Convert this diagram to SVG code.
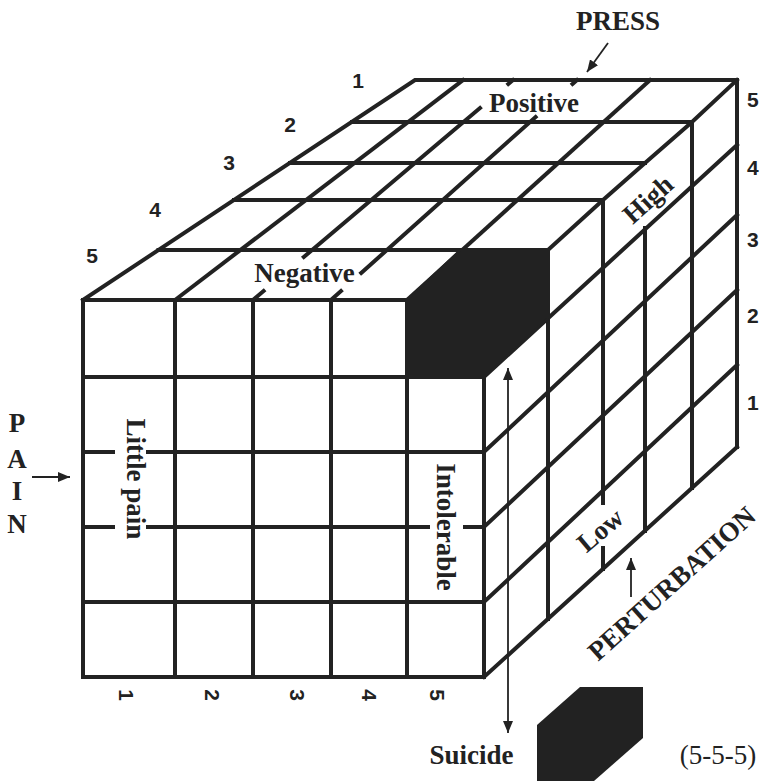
<svg xmlns="http://www.w3.org/2000/svg" width="761" height="781" viewBox="0 0 761 781">
<style>
.g{stroke:#222;stroke-width:4;fill:none;stroke-linecap:square;stroke-linejoin:miter}
.thin{stroke:#222;stroke-width:1.8;fill:none}
.blk{fill:#222;stroke:#222;stroke-width:2;stroke-linejoin:miter}
.lbl{font-family:"Liberation Serif","Times New Roman",serif;font-weight:bold;font-size:27px;fill:#222}
.reg{font-family:"Liberation Serif","Times New Roman",serif;font-size:27px;fill:#222}
.num{font-family:"Liberation Sans",Arial,sans-serif;font-weight:bold;font-size:21px;fill:#222}
</style>
<defs>
<marker id="ah" viewBox="0 0 12 10" refX="12" refY="5" markerWidth="12" markerHeight="10" markerUnits="userSpaceOnUse" orient="auto-start-reverse">
<path d="M0,0 L12,5 L0,10 z" fill="#222"/>
</marker>
</defs>
<rect width="761" height="781" fill="#fff"/>

<g id="cube">
<g id="front-face" class="g">
<path d="M83,300V677M175,300V677M253,300V677M331,300V677M407,300V677M484,300V677"/>
<path d="M83,300H484M83,377H484M83,602H484M83,677H484"/>
<path d="M83,452H113M148,452H484"/>
<path d="M83,527H113M148,527H428M465,527H484"/>
</g>
<g id="top-face" class="g">
<path d="M83,300L415,80H737"/>
<path d="M158.5,250H548M234,200H603M290,163H645M352,122H692"/>
<path d="M175,300L463,80"/>
<path d="M513,80L508.3,84M480,108L303.8,257M263.6,291L253,300"/>
<path d="M577,80L572.5,84M535.6,117L361.2,273M341,291L331,300"/>
<path d="M407,300L650,80"/>
<path d="M484,300L548,250L603,200L645,163L692,122L737,80"/>
</g>
<g id="right-face" class="g">
<path d="M548,250V619M603,200V503M603,548V569M645,228V531M692,122V488M737,80V447"/>
<path d="M484,377L737,145M484,452L737,215M484,527L737,290M484,602L737,365M484,677L737,447"/>
</g>
<polygon id="suicide-cell" class="blk" points="407,300 460,250 548,250 548,318 484,377 407,377"/>
</g>

<g id="axis-labels">
<text class="lbl" x="618" y="30" text-anchor="middle">PRESS</text>
<text class="lbl" x="534" y="112" text-anchor="middle">Positive</text>
<text class="lbl" x="304.5" y="282" text-anchor="middle">Negative</text>
<text class="lbl" transform="rotate(90 127 479)" x="127" y="479" text-anchor="middle">Little pain</text>
<text class="lbl" transform="rotate(90 437 527)" x="437" y="527" text-anchor="middle">Intolerable</text>
<text class="lbl" transform="rotate(-42 654 206)" x="654" y="206" text-anchor="middle">High</text>
<text class="lbl" transform="rotate(-40 606 537)" x="606" y="537" text-anchor="middle">Low</text>
<text class="lbl" transform="rotate(-42 598 662)" x="598" y="662">PERTURBATION</text>
<g id="pain-label" class="lbl" text-anchor="middle">
<text x="17" y="432">P</text>
<text x="17" y="468">A</text>
<text x="17" y="500">I</text>
<text x="17" y="533">N</text>
</g>
</g>

<g id="scale-numbers" class="num">
<text x="358" y="88" text-anchor="middle">1</text>
<text x="290" y="132" text-anchor="middle">2</text>
<text x="229" y="170" text-anchor="middle">3</text>
<text x="155" y="217" text-anchor="middle">4</text>
<text x="92" y="263" text-anchor="middle">5</text>
<text x="747" y="107">5</text>
<text x="747" y="175">4</text>
<text x="747" y="247">3</text>
<text x="747" y="323">2</text>
<text x="747" y="410">1</text>
<text transform="rotate(90 119 695)" x="119" y="695" text-anchor="middle">1</text>
<text transform="rotate(90 205 695)" x="205" y="695" text-anchor="middle">2</text>
<text transform="rotate(90 290 695)" x="290" y="695" text-anchor="middle">3</text>
<text transform="rotate(90 362 695)" x="362" y="695" text-anchor="middle">4</text>
<text transform="rotate(90 430 695)" x="430" y="695" text-anchor="middle">5</text>
</g>

<g id="connectors" class="thin">
<line x1="608" y1="43" x2="587" y2="72" marker-end="url(#ah)"/>
<line x1="32" y1="477" x2="70" y2="477" marker-end="url(#ah)"/>
<line x1="631" y1="597" x2="631" y2="558" marker-end="url(#ah)"/>
<line x1="508" y1="368" x2="508" y2="733" marker-start="url(#ah)" marker-end="url(#ah)"/>
</g>

<g id="legend">
<polygon id="legend-cell" fill="#222" points="537,725 580,687 643,687 643,738 594,781 537,781"/>
<text class="lbl" x="471.5" y="764" text-anchor="middle">Suicide</text>
<text class="reg" x="718" y="764" text-anchor="middle">(5-5-5)</text>
</g>
</svg>
